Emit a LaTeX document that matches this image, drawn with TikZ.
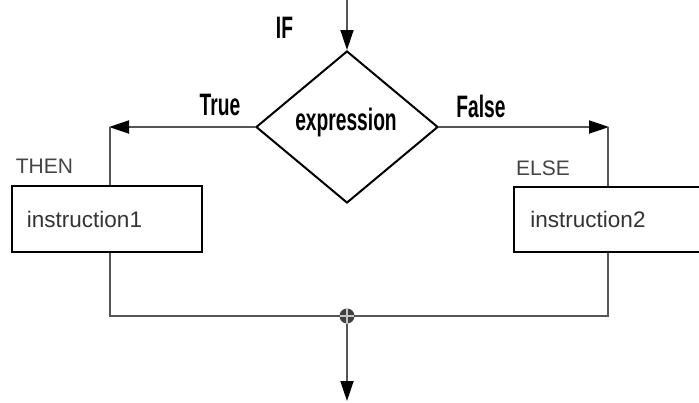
\documentclass[tikz,border=0pt]{standalone}
\usepackage{fontspec}
\setmainfont{Liberation Sans}
\usetikzlibrary{arrows.meta,shapes.geometric}
\definecolor{linegray}{HTML}{555555}
\definecolor{textgray}{HTML}{444444}
\begin{document}
\begin{tikzpicture}[x=1pt,y=-1pt,
  conn/.style={draw=linegray,line width=1.8pt},
  arr/.style={conn,-{Triangle[length=20pt,width=13pt,color=black]}},
  boxnode/.style={draw=black,line width=2.2pt,fill=white,inner sep=0pt},
  cond/.style={font=\fontsize{31}{31}\selectfont\bfseries,xscale=0.62,inner sep=0pt,anchor=base},
  kw/.style={font=\fontsize{21}{21}\selectfont,text=textgray,inner sep=0pt,anchor=base},
  instr/.style={font=\fontsize{22.5}{22.5}\selectfont,text=black!80,inner sep=0pt,anchor=base}]
\useasboundingbox (0,0) rectangle (699,402);
\clip (0,0) rectangle (699,402);
% decision
\node[diamond,draw=black,line width=2pt,inner sep=0pt,minimum width=182pt,minimum height=152pt] (dec) at (347,127) {};
\node[cond] (exprtxt) at (346,130) {expression};
\node[cond] (iftxt) at (284.5,38) {IF};
\node[cond] (truetxt) at (220,115) {True};
\node[cond] (falsetxt) at (481,117) {False};
% boxes
\node[boxnode,minimum width=190pt,minimum height=66pt] (b1) at (107,219) {};
\node[boxnode,minimum width=196pt,minimum height=65pt] (b2) at (612,219.5) {};
\node[instr] (i1) at (84.5,227) {instruction1};
\node[instr] (i2) at (588,227) {instruction2};
\node[kw] (then) at (44.5,173) {THEN};
\node[kw] (else) at (543,175) {ELSE};
% coordinates
\coordinate (top) at (347,0);
\coordinate (tl) at (109,127);
\coordinate (tr) at (609,127);
\coordinate (bl) at (110,316);
\coordinate (br) at (608,316);
\coordinate (end) at (347,401);
% connectors
\draw[arr] (top) -- (dec.north);
\draw[arr] (dec.west) -- (tl);
\draw[conn] (110,127) -- (b1.north -| bl);
\draw[arr] (dec.east) -- (tr);
\draw[conn] (608,127) -- (b2.north -| br);
\draw[conn] (b1.south -| bl) -- (bl) -- (br) -- (b2.south -| br);
\node[circle,fill=black!75,inner sep=0pt,minimum size=15pt,
  path picture={\draw[white!55!gray,line width=1.2pt]
    (path picture bounding box.west) -- (path picture bounding box.east)
    (path picture bounding box.north) -- (path picture bounding box.south);}] (j) at (347,316) {};
\draw[arr] (j) -- (end);
\end{tikzpicture}
\end{document}
